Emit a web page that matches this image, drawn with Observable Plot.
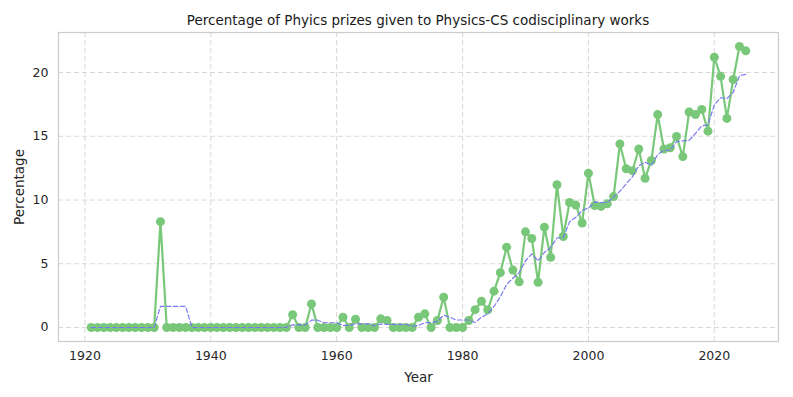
<!DOCTYPE html>
<html>
<head>
<meta charset="utf-8">
<script src="https://cdn.jsdelivr.net/npm/d3@7"></script>
<script src="https://cdn.jsdelivr.net/npm/@observablehq/plot@0.6"></script>
<style>
  body { margin: 0; background: #fff; font-family: "DejaVu Sans", sans-serif; }
  #wrap { position: relative; width: 793px; height: 397px; }
  #title { position: absolute; top: 12px; left: 58px; width: 720px; text-align: center; font-size: 13.5px; color: #1a1a1a; }
  #wrap svg text { font-size: 12.5px !important; fill: #262626; }
  #wrap svg g[aria-label="x-axis label"] text, #wrap svg g[aria-label="y-axis label"] text { font-size: 13.5px !important; }
</style>
</head>
<body>
<div id="wrap"><div id="title">Percentage of Phyics prizes given to Physics-CS codisciplinary works</div></div>
<script>
const years = d3.range(1921, 2026);
const percentages = [
  // 1921-1930
  0, 0, 0, 0, 0, 0, 0, 0, 0, 0,
  // 1931-1940
  0, 8.3, 0, 0, 0, 0, 0, 0, 0, 0,
  // 1941-1950
  0, 0, 0, 0, 0, 0, 0, 0, 0, 0,
  // 1951-1960
  0, 0, 1.0, 0, 0, 1.85, 0, 0, 0, 0,
  // 1961-1970
  0.8, 0, 0.65, 0, 0, 0, 0.68, 0.55, 0, 0,
  // 1971-1980
  0, 0, 0.8, 1.07, 0, 0.55, 2.38, 0, 0, 0,
  // 1981-1990
  0.55, 1.4, 2.06, 1.38, 2.85, 4.3, 6.3, 4.5, 3.58, 7.5,
  // 1991-2000
  6.98, 3.55, 7.87, 5.5, 11.2, 7.14, 9.8, 9.6, 8.2, 12.1,
  // 2001-2010
  9.57, 9.5, 9.7, 10.27, 14.4, 12.45, 12.3, 14.0, 11.7, 13.1,
  // 2011-2020
  16.7, 14.0, 14.1, 14.98, 13.4, 16.9, 16.7, 17.1, 15.4, 21.2,
  // 2021-2025
  19.7, 16.4, 19.45, 22.04, 21.7
];
const xTicks = [1920, 1940, 1960, 1980, 2000, 2020];
const yTicks = [0, 5, 10, 15, 20];

const data = years.map((y, i) => ({year: y, pct: percentages[i]}));

const chart = Plot.plot({
  width: 793,
  height: 397,
  marginTop: 32,
  marginLeft: 58,
  marginRight: 15,
  marginBottom: 56,
  style: { fontFamily: "DejaVu Sans, sans-serif", fontSize: "12.5px", color: "#222", background: "transparent" },
  x: { domain: [1915.8, 2030.2], tickSize: 0, label: null },
  y: { domain: [-1.1, 23.14], tickSize: 0, label: null },
  marks: [
    Plot.gridX(xTicks, { stroke: "#d8d8d8", strokeOpacity: 1, strokeDasharray: "5,3", strokeWidth: 1 }),
    Plot.gridY(yTicks, { stroke: "#d8d8d8", strokeOpacity: 1, strokeDasharray: "5,3", strokeWidth: 1 }),
    Plot.frame({ stroke: "#cccccc", strokeWidth: 1.2 }),
    Plot.line(data, { x: "year", y: "pct", stroke: "#79c879", strokeWidth: 2.2 }),
    Plot.dot(data, { x: "year", y: "pct", fill: "#79c879", r: 4.5, stroke: "none" }),
    Plot.line(data, Plot.windowY({ k: 5, anchor: "end", reduce: "mean" }, { x: "year", y: "pct", stroke: "#7a7af0", strokeWidth: 1.2, strokeDasharray: "4.5,2.5" })),
    Plot.axisX(xTicks, { tickSize: 0, tickPadding: 10, label: "Year", labelAnchor: "center", labelArrow: "none", labelOffset: 40, tickFormat: d => String(d) }),
    Plot.axisY(yTicks, { tickSize: 0, tickPadding: 10, label: "Percentage", labelAnchor: "center", labelArrow: "none", labelOffset: 44 })
  ]
});
document.getElementById("wrap").appendChild(chart);
</script>
</body>
</html>
